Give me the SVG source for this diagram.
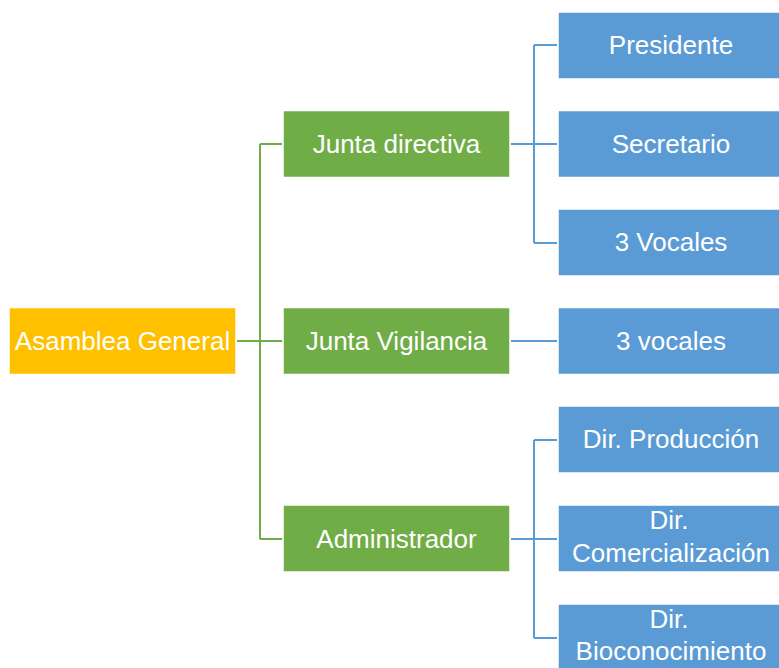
<svg xmlns="http://www.w3.org/2000/svg" width="779" height="668" viewBox="0 0 779 668">
<style>
.box{stroke:#ffffff;stroke-width:1.5}
.or{fill:#FFC000}
.gr{fill:#70AD47}
.bl{fill:#5B9BD5}
.t{font-family:"Liberation Sans",Arial,sans-serif;font-size:26px;fill:#ffffff;text-anchor:middle}
.cg{stroke:#70AD47;stroke-width:2;fill:none}
.cb{stroke:#5B9BD5;stroke-width:2;fill:none}
</style>
<rect width="779" height="668" fill="#ffffff"/>
<g id="connectors">
<path class="cg" d="M237 341 H282 M260 144 V539 M260 144 H282 M260 539 H282"/>
<path class="cb" d="M511 144 H557 M534 45 V243 M534 45 H557 M534 243 H557"/>
<path class="cb" d="M511 144 H534" stroke-width="3"/>
<path class="cb" d="M511 341 H557"/>
<path class="cb" d="M511 539 H557 M534 440 V638 M534 440 H557 M534 638 H557"/>
</g>
<g id="asamblea"><rect class="box or" x="9" y="307.5" width="227" height="67"/><text class="t" x="122.5" y="350">Asamblea General</text></g>
<g id="junta-directiva"><rect class="box gr" x="283" y="110.5" width="227" height="67"/><text class="t" x="396.5" y="153">Junta directiva</text></g>
<g id="junta-vigilancia"><rect class="box gr" x="283" y="307.5" width="227" height="67"/><text class="t" x="396.5" y="350">Junta Vigilancia</text></g>
<g id="administrador"><rect class="box gr" x="283" y="505" width="227" height="67"/><text class="t" x="396.5" y="548">Administrador</text></g>
<g id="presidente"><rect class="box bl" x="558" y="12" width="225" height="67"/><text class="t" x="671" y="54">Presidente</text></g>
<g id="secretario"><rect class="box bl" x="558" y="110.5" width="225" height="67"/><text class="t" x="671" y="153">Secretario</text></g>
<g id="vocales-directiva"><rect class="box bl" x="558" y="209" width="225" height="67"/><text class="t" x="671" y="251">3 Vocales</text></g>
<g id="vocales-vigilancia"><rect class="box bl" x="558" y="307.5" width="225" height="67"/><text class="t" x="671" y="350">3 vocales</text></g>
<g id="dir-produccion"><rect class="box bl" x="558" y="406" width="225" height="67"/><text class="t" x="671" y="448">Dir. Producción</text></g>
<g id="dir-comercializacion"><rect class="box bl" x="558" y="505" width="225" height="67"/><text class="t" x="669" y="529">Dir.</text><text class="t" x="671" y="562">Comercialización</text></g>
<g id="dir-bioconocimiento"><rect class="box bl" x="558" y="604" width="225" height="67"/><text class="t" x="669" y="628">Dir.</text><text class="t" x="671" y="660">Bioconocimiento</text></g>
</svg>
